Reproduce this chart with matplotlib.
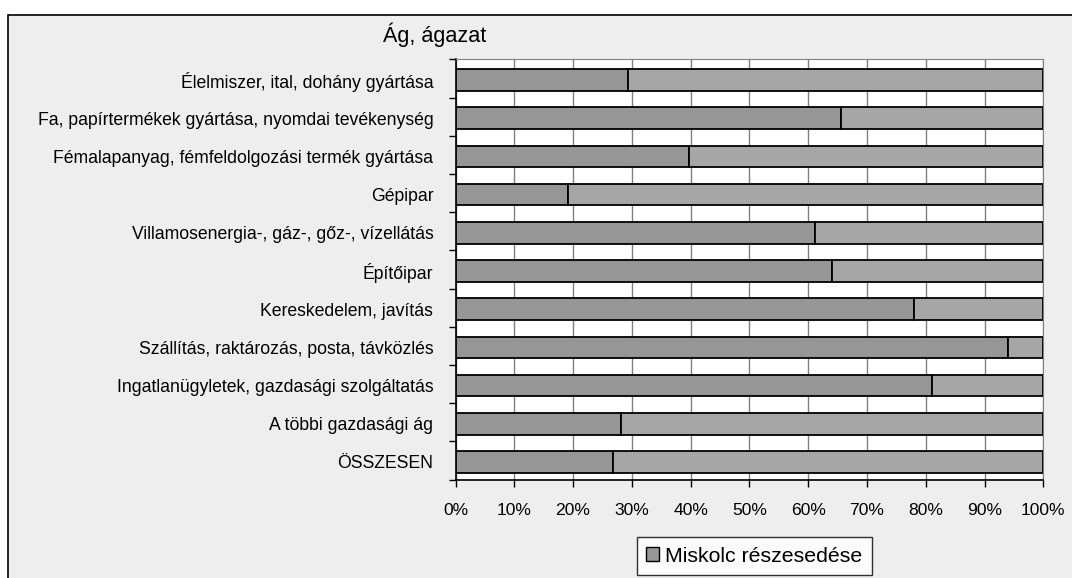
import matplotlib
matplotlib.use("Agg")
import matplotlib.pyplot as plt
from matplotlib.patches import Rectangle, Patch
import numpy as np

# Ág, ágazat -> Miskolc részesedése (%)
categories = [
    "Élelmiszer, ital, dohány gyártása",
    "Fa, papírtermékek gyártása, nyomdai tevékenység",
    "Fémalapanyag, fémfeldolgozási termék gyártása",
    "Gépipar",
    "Villamosenergia-, gáz-, gőz-, vízellátás",
    "Építőipar",
    "Kereskedelem, javítás",
    "Szállítás, raktározás, posta, távközlés",
    "Ingatlanügyletek, gazdasági szolgáltatás",
    "A többi gazdasági ág",
    "ÖSSZESEN",
]
miskolc_share = [29.4, 65.6, 39.7, 19.1, 61.1, 64.1, 78.0, 94.0, 81.0, 28.1, 26.8]
rest_share = [100 - v for v in miskolc_share]
xticks = list(range(0, 101, 10))

plt.rcParams['font.family'] = ['Liberation Sans', 'DejaVu Sans']

W, H = 1072, 578
fig = plt.figure(figsize=(W / 100, H / 100), dpi=100, facecolor='white')

# outer chart-area frame
fig.patches.append(Rectangle((8 / W, -0.1), 1.2, 1 - 15 / H + 0.1,
                             transform=fig.transFigure, facecolor='#eeeeee',
                             edgecolor='black', linewidth=1.2, zorder=-10))

left, right, top, bottom = 455.5, 1043.3, 59.3, 479.5
ax = fig.add_axes([left / W, 1 - bottom / H, (right - left) / W, (bottom - top) / H])
ax.set_facecolor('white')

y = np.arange(len(categories)) + 0.04
bar_h = 0.565
ax.barh(y, miskolc_share, height=bar_h, color='#969696', edgecolor='black',
        linewidth=1.3, zorder=3, label='Miskolc részesedése')
ax.barh(y, rest_share, left=miskolc_share, height=bar_h, color='#a6a6a6',
        edgecolor='black', linewidth=1.3, zorder=3)

ax.set_xlim(0, 100)
ax.set_ylim(len(categories) - 0.5, -0.5)
ax.set_xticks(xticks)
ax.set_xticklabels([f"{t}%" for t in xticks], fontsize=12.6)
ax.set_yticks(y)
ax.set_yticklabels(categories, fontsize=12.7)
ax.set_yticks(np.arange(len(categories) + 1) - 0.5, minor=True)
ax.tick_params(axis='y', which='major', length=0, pad=16)
ax.tick_params(axis='y', which='minor', length=5, width=1, direction='out')
ax.tick_params(axis='x', length=5, width=1, direction='out', pad=12)

ax.grid(axis='x', color='#808080', linewidth=1, zorder=1)
ax.set_axisbelow(True)
for s in ['top', 'right']:
    ax.spines[s].set_color('#808080')
for s in ['left', 'bottom']:
    ax.spines[s].set_color('black')
    ax.spines[s].set_linewidth(1.2)

fig.text(434.5 / W, 1 - 35 / H, "Ág, ágazat", ha='center', va='center', fontsize=15.6)

handle = Patch(facecolor='#969696', edgecolor='black', linewidth=1)
leg = fig.legend([handle], ['Miskolc részesedése'], loc='center',
                 bbox_to_anchor=(754.5 / W, 1 - 556 / H), fontsize=15.3,
                 frameon=True, fancybox=False, handlelength=0.6, handleheight=0.6,
                 handletextpad=0.3, borderpad=0.45)
leg.get_frame().set_edgecolor('black')
leg.get_frame().set_linewidth(1)

fig.savefig('out.png', dpi=100, facecolor=fig.get_facecolor())
